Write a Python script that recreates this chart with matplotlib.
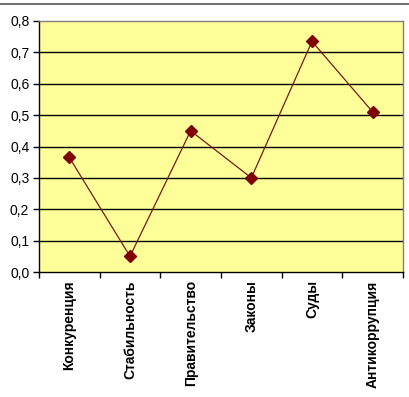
import matplotlib
matplotlib.use("Agg")
import matplotlib.pyplot as plt
from matplotlib.lines import Line2D

categories = ["Конкуренция", "Стабильность", "Правительство", "Законы", "Суды", "Антикоррупция"]
values = [0.365, 0.05, 0.45, 0.30, 0.735, 0.51]
yticks = [0.0, 0.1, 0.2, 0.3, 0.4, 0.5, 0.6, 0.7, 0.8]
ytick_labels = ["0,0", "0,1", "0,2", "0,3", "0,4", "0,5", "0,6", "0,7", "0,8"]

plt.rcParams["font.family"] = ["Liberation Sans", "DejaVu Sans"]

fig = plt.figure(figsize=(4.10, 3.97), dpi=100)
ax = fig.add_axes([39 / 410, 1 - 272 / 397, 364 / 410, 251 / 397])
ax.set_facecolor("#FFFF99")

x = list(range(len(categories)))
ax.plot(x, values, color="#7A1A10", lw=0.9, marker="D", markersize=6.5,
        markerfacecolor="#800000", markeredgecolor="#800000", zorder=3)

ax.set_xlim(-0.5, len(categories) - 0.5)
ax.set_ylim(0, 0.8)
ax.set_yticks(yticks)
ax.set_yticklabels(ytick_labels, fontsize=10)
for v in yticks[1:-1]:
    ax.axhline(v, color="black", lw=1.0, zorder=1)

# category boundaries as ticks, labels in between
ax.set_xticks([i - 0.5 for i in range(len(categories) + 1)])
ax.set_xticklabels([])
ax.set_xticks(x, minor=True)
ax.set_xticklabels(categories, minor=True, rotation=90, fontsize=10,
                   fontweight="bold", va="top")
ax.tick_params(axis="x", which="minor", length=0, pad=6)
ax.tick_params(axis="x", which="major", length=4, width=1, direction="out")
ax.tick_params(axis="y", length=4, width=1, direction="out", pad=3)

ax.spines["left"].set_color("black")
ax.spines["bottom"].set_color("black")
ax.spines["top"].set_color("#808080")
ax.spines["right"].set_color("#808080")
for s in ax.spines.values():
    s.set_linewidth(1.0)

fig.add_artist(Line2D([0, 1], [1 - 4 / 397, 1 - 4 / 397], color="#555555", lw=1.2))

fig.savefig("out.png", dpi=100)
